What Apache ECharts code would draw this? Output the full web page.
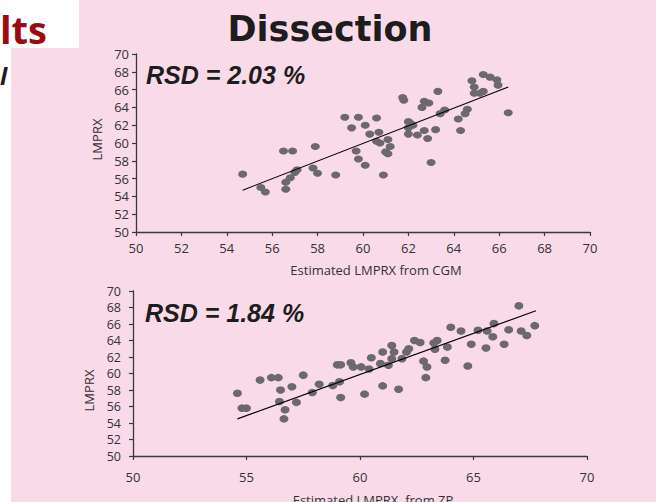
<!DOCTYPE html>
<html>
<head>
<meta charset="utf-8">
<script src="https://cdn.jsdelivr.net/npm/echarts@6/dist/echarts.min.js"></script>
<style>
html,body{margin:0;padding:0;background:#f9dae8;}
#c{width:656px;height:502px;}
</style>
</head>
<body>
<div id="c"></div>
<script>
// ---- Data ----
const cgmEstimated = [54.7,55.5,55.7,56.5,56.9,56.6,56.6,56.8,57.0,57.1,57.9,57.8,58.0,58.8,59.2,59.5,59.8,60.1,59.7,59.8,60.1,60.6,60.3,60.7,60.6,60.75,61.1,61.2,61.0,61.1,60.9,61.75,61.8,62.0,62.1,62.2,62.0,62.0,62.4,62.7,62.85,63.0,62.6,62.7,62.9,63.3,63.2,63.4,63.6,64.2,64.3,64.5,64.6,64.8,64.9,64.9,65.3,65.6,65.9,65.95,65.3,65.15,66.4];
const cgmMeasured  = [56.5,55.0,54.5,59.1,59.1,55.6,54.8,56.1,56.7,57.0,59.6,57.2,56.6,56.4,62.9,61.7,62.9,62.0,59.1,58.2,57.5,62.8,61.0,61.2,60.2,60.0,60.4,59.6,59.0,58.8,56.4,65.1,64.8,62.4,62.2,62.0,61.7,61.0,60.9,61.4,60.5,57.8,64.0,64.7,64.5,65.8,61.5,63.3,63.7,62.7,61.4,63.3,63.8,67.0,66.3,65.6,67.7,67.4,67.1,66.5,65.8,65.6,63.4];
const cgmFitX = [54.7, 66.4];
const cgmFitY = [54.7, 66.3];

const zpEstimated = [54.6,54.8,55.0,55.6,56.1,56.4,56.5,56.45,56.7,56.65,57.0,57.2,57.5,57.9,58.2,58.8,59.1,59.15,59.0,59.15,59.6,59.7,60.05,60.2,60.5,60.4,61.0,61.4,61.5,60.9,61.25,61.4,61.0,61.7,61.85,62.05,62.15,62.4,62.65,62.8,62.95,62.9,63.25,63.4,63.3,63.85,63.75,64.0,64.45,64.75,64.9,65.2,65.6,65.9,65.85,65.55,66.35,66.55,67.0,67.1,67.35,67.7];
const zpMeasured  = [57.6,55.8,55.8,59.2,59.5,59.5,58.0,56.6,55.6,54.5,58.4,56.5,59.8,57.7,58.7,58.55,59.0,57.1,61.05,61.05,61.3,60.8,60.8,57.5,61.9,60.55,62.6,63.4,62.6,61.2,61.0,61.8,58.5,58.1,61.8,62.6,63.0,64.0,63.75,61.5,60.8,59.5,63.7,64.0,62.95,63.2,61.6,65.6,65.15,60.9,63.55,65.25,65.15,66.05,64.45,63.1,63.55,65.3,68.2,65.15,64.6,65.8];
const zpFitX = [54.6, 67.75];
const zpFitY = [54.5, 67.6];

const axisMin = 50, axisMax = 70;
const topXInterval = 2, bottomXInterval = 5, yInterval = 2;
const titleText = 'Dissection';
const rsdTop = 'RSD = 2.03 %';
const rsdBottom = 'RSD = 1.84 %';
const yName = 'LMPRX';
const xNameTop = 'Estimated LMPRX from CGM';
const xNameBottom = 'Estimated LMPRX  from ZP';

// ---- Build ----
const zip = (a, b) => a.map((v, i) => [v, b[i]]);
const dotColor = '#6c686b';
const axisColor = '#3a3a3c';
const labelColor = '#333335';
const font = '"Open Sans", "Noto Sans", sans-serif';

function xAxisOf(gi, interval, margin, nameText, nameGap) {
  return {
    gridIndex: gi, type: 'value', min: axisMin, max: axisMax, interval: interval,
    axisLine: { show: true, onZero: false, lineStyle: { color: axisColor, width: 1.3 } },
    axisTick: { show: true, inside: false, length: 4, lineStyle: { color: axisColor, width: 1.2 } },
    axisLabel: { color: labelColor, fontSize: 13, fontFamily: font, margin: margin },
    splitLine: { show: false },
    name: nameText, nameLocation: 'middle', nameGap: nameGap,
    nameTextStyle: { color: labelColor, fontSize: 13, fontFamily: font, padding: [0, 0, 0, 26] }
  };
}
function yAxisOf(gi, margin, nameGap, namePad, fs) {
  return {
    gridIndex: gi, type: 'value', min: axisMin, max: axisMax, interval: yInterval,
    axisLine: { show: true, onZero: false, lineStyle: { color: axisColor, width: 1.3 } },
    axisTick: { show: true, inside: false, length: 4, lineStyle: { color: axisColor, width: 1.2 } },
    axisLabel: { color: labelColor, fontSize: fs, lineHeight: 8, fontFamily: font, margin: margin },
    splitLine: { show: false },
    name: yName, nameLocation: 'middle', nameGap: nameGap,
    nameTextStyle: { color: labelColor, fontSize: 13, fontFamily: font, padding: namePad }
  };
}

const chart = echarts.init(document.getElementById('c'), null, { renderer: 'svg' });
chart.setOption({
  backgroundColor: '#f9dae8',
  animation: false,
  grid: [
    { left: 136, top: 54, width: 454, height: 178, containLabel: false, outerBoundsMode: 'none' },
    { left: 133, top: 291, width: 454, height: 165, containLabel: false, outerBoundsMode: 'none' }
  ],
  xAxis: [
    xAxisOf(0, topXInterval, 9, xNameTop, 31),
    xAxisOf(1, bottomXInterval, 14, xNameBottom, 37)
  ],
  yAxis: [
    yAxisOf(0, 7, 28, [0, 0, 0, 7], 13),
    yAxisOf(1, 12, 38, [0, 34, 0, 0], 12.5)
  ],
  series: [
    { type: 'scatter', xAxisIndex: 0, yAxisIndex: 0, data: zip(cgmEstimated, cgmMeasured),
      symbol: 'circle', symbolSize: [9, 7], itemStyle: { color: dotColor, opacity: 1 } },
    { type: 'line', xAxisIndex: 0, yAxisIndex: 0, data: zip(cgmFitX, cgmFitY),
      symbol: 'none', lineStyle: { color: '#000', width: 1.1 }, z: 3 },
    { type: 'scatter', xAxisIndex: 1, yAxisIndex: 1, data: zip(zpEstimated, zpMeasured),
      symbol: 'circle', symbolSize: [9, 7.5], itemStyle: { color: dotColor, opacity: 1 } },
    { type: 'line', xAxisIndex: 1, yAxisIndex: 1, data: zip(zpFitX, zpFitY),
      symbol: 'none', lineStyle: { color: '#000', width: 1.1 }, z: 3 }
  ],
  graphic: [
    { type: 'rect', left: 0, top: 0, shape: { width: 11, height: 502 }, style: { fill: '#ffffff' }, z: 0 },
    { type: 'rect', left: 0, top: 0, shape: { width: 79, height: 48 }, style: { fill: '#ffffff' }, z: 0 },
    { type: 'text', x: 0, y: 29, style: { text: 'lts', fill: '#9a0b12', font: 'bold 38px "Open Sans", sans-serif', verticalAlign: 'middle' }, z: 5 },
    { type: 'text', x: 0, y: 75, style: { text: 'l', fill: '#1c1c1e', font: 'italic bold 24px "Open Sans", sans-serif', verticalAlign: 'middle' }, z: 5 },
    { type: 'text', x: 330, y: 29, style: { text: titleText, fill: '#1d1d20', font: 'bold 35px "DejaVu Sans", sans-serif', align: 'center', verticalAlign: 'middle' }, z: 5 },
    { type: 'text', x: 146, y: 75, style: { text: rsdTop, fill: '#1d1d20', font: 'italic bold 25px "Liberation Sans", sans-serif', verticalAlign: 'middle' }, z: 5 },
    { type: 'text', x: 145, y: 313, style: { text: rsdBottom, fill: '#1d1d20', font: 'italic bold 25px "Liberation Sans", sans-serif', verticalAlign: 'middle' }, z: 5 }
  ]
});
</script>
</body>
</html>
